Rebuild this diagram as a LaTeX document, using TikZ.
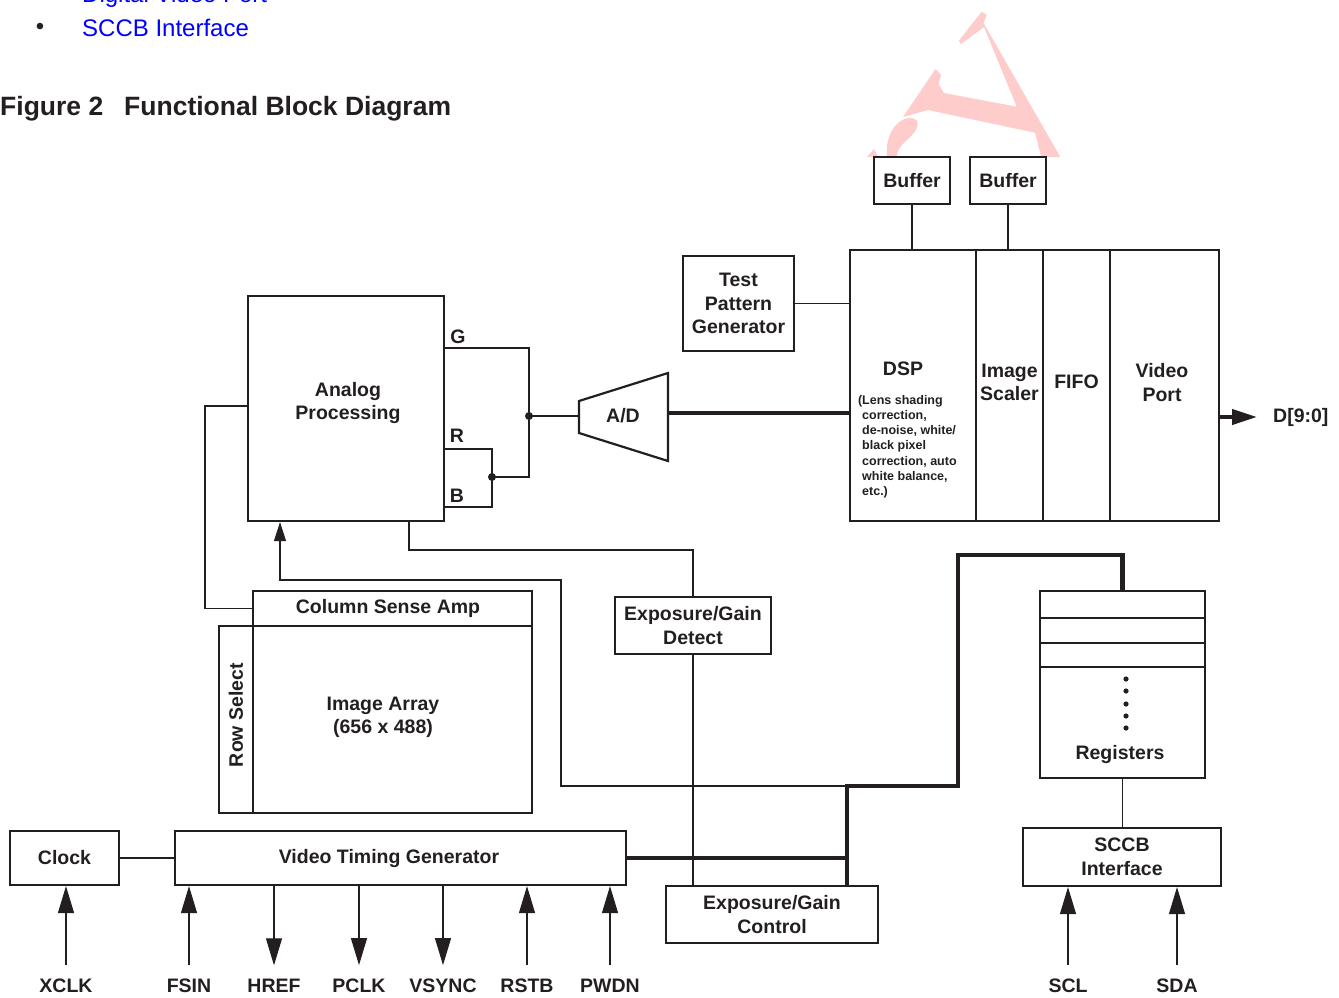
\documentclass[tikz,border=0pt]{standalone}
\usepackage{fontspec}
\setmainfont{Liberation Sans}
\usetikzlibrary{arrows.meta}
\definecolor{ink}{HTML}{231F20}
\definecolor{wmred}{HTML}{FFCCCC}
\newcommand{\lbl}{\fontsize{19.5}{23.5}\selectfont\bfseries}
\newcommand{\notefont}{\fontsize{12.5}{15.2}\selectfont\bfseries}
\begin{document}
\begin{tikzpicture}[x=1pt, y=-1pt, color=ink,
    blk/.style={draw, line width=2.2pt, inner sep=0pt, align=center, font=\lbl},
    wire/.style={line width=1.2pt},
    bus/.style={line width=4.2pt},
    tip/.style={-{Triangle[length=27pt, width=16pt]}},
    smalltip/.style={-{Triangle[length=19pt, width=12pt]}},
    pin/.style={font=\lbl, inner sep=0pt, outer sep=14pt}]
    \useasboundingbox (0,0) rectangle (1339,997);
    % watermark
    \begin{scope}
        \clip (840,0) rectangle (1100,156);
        \fill[wmred] (935.5,69) -- (941,75) -- (938.5,84) -- (944,93) -- (1016.7,106.7) -- (984,27) -- (961,44) -- (959,40.5) -- (981.7,11.7) -- (986.7,15) -- (983.5,23) -- (1062,160) -- (1042,160) -- (1035,132.7) -- (928,110) -- (903,117) -- cycle;
        \fill[wmred] (917,120) .. controls (905,112) and (884,128) .. (887,157) -- (897,157) .. controls (897,146) and (906,142) .. (912,135) .. controls (917,130) and (919,124) .. (917,120) -- cycle;
        \fill[wmred] (867,157) -- (874,149) -- (878,157) -- cycle;
    \end{scope}
    % heading
    \node[blue, font=\fontsize{24}{28}\selectfont, anchor=base west, inner sep=0pt] (dvp) at (82,2.5) {Digital Video Port};
    \node[font=\fontsize{24}{28}\selectfont, inner sep=0pt] (bullet) at (40,29) {•};
    \node[blue, font=\fontsize{24}{28}\selectfont, anchor=base west, inner sep=0pt] (sccbitem) at (82,36) {SCCB Interface};
    \node[font=\fontsize{26.5}{30}\selectfont\bfseries, anchor=base west, inner sep=0pt] (fig) at (0,115) {Figure 2};
    \node[font=\fontsize{26.5}{30}\selectfont\bfseries, anchor=base west, inner sep=0pt] (figtitle) at (124,115) {Functional Block Diagram};
    % blocks
    \node[blk, minimum width=76pt, minimum height=47pt] (buf1) at (912,180.5) {Buffer};
    \node[blk, minimum width=76pt, minimum height=47pt] (buf2) at (1008,180.5) {Buffer};
    \node[blk, minimum width=126pt, minimum height=271pt] (dsp) at (913,385.5) {};
    \node[blk, minimum width=67pt, minimum height=271pt] (scaler) at (1009.5,385.5) {};
    \node[blk, minimum width=67pt, minimum height=271pt] (fifo) at (1076.5,385.5) {};
    \node[blk, minimum width=109pt, minimum height=271pt] (vport) at (1164.5,385.5) {};
    \node[font=\lbl] (dsplbl) at (903,369) {DSP};
    \node[font=\lbl, align=center] (scalerlbl) at (1009.5,382.5) {Image\\Scaler};
    \node[font=\lbl] (fifolbl) at (1076.5,382) {FIFO};
    \node[font=\lbl, align=center] (vportlbl) at (1162,382.5) {Video\\Port};
    \node[font=\notefont, align=left, anchor=north west, inner sep=0pt] (dspnote) at (862,395) {\llap{(}Lens shading\\correction,\\de-noise, white/\\black pixel\\correction, auto\\white balance,\\etc.)};
    \node[blk, minimum width=111pt, minimum height=95pt] (tpg) at (738.5,303.5) {Test\\Pattern\\Generator};
    \node[blk, minimum width=196pt, minimum height=225pt] (ap) at (346,408.5) {};
    \node[font=\lbl, align=center] (aplbl) at (348,403) {Analog\\Processing};
    \node[font=\lbl] (g) at (458,337) {G};
    \node[font=\lbl] (r) at (457,436) {R};
    \node[font=\lbl] (b) at (457,496) {B};
    \draw[line width=2.2pt] (579,401) -- (668,373) -- (668,461) -- (579,433) -- cycle;
    \node[font=\lbl] (ad) at (623,416) {A/D};
    \coordinate (adin) at (579,416);
    \coordinate (adout) at (668,413);
    \coordinate (gdot) at (529,416);
    \coordinate (rdot) at (492,477);
    \node[blk, minimum width=279pt, minimum height=35pt] (csa) at (392.5,608.5) {};
    \node[font=\lbl] (csalbl) at (388,608.5) {Column Sense Amp};
    \node[blk, minimum width=34pt, minimum height=187pt] (rowsel) at (236,719.5) {};
    \node[font=\lbl, rotate=90] (rowlbl) at (236,715) {Row Select};
    \node[blk, minimum width=279pt, minimum height=187pt] (array) at (392.5,719.5) {};
    \node[font=\lbl, align=center] (arraylbl) at (383,717.5) {Image Array\\(656 x 488)};
    \node[blk, minimum width=156pt, minimum height=57pt] (egd) at (693,625.5) {Exposure/Gain\\Detect};
    \node[blk, minimum width=212pt, minimum height=57pt] (egc) at (772,914.5) {Exposure/Gain\\Control};
    \node[blk, minimum width=165pt, minimum height=187pt] (regs) at (1122.5,684.5) {};
    \node[font=\lbl] (reglbl) at (1120,754) {Registers};
    \node[blk, minimum width=198pt, minimum height=58pt] (sccb) at (1122,857) {SCCB\\Interface};
    \node[blk, minimum width=109pt, minimum height=54pt] (clock) at (64.5,858) {Clock};
    \node[blk, minimum width=451pt, minimum height=54pt] (vtg) at (400.5,858) {};
    \node[font=\lbl] (vtglbl) at (389,858) {Video Timing Generator};
    \node[font=\lbl, anchor=west, inner sep=0pt] (dout) at (1273,417) {D[9:0]};
    \foreach \n/\t/\x in {xclk/XCLK/66, fsin/FSIN/189, href/HREF/274, pclk/PCLK/359, vsync/VSYNC/443, rstb/RSTB/527, pwdn/PWDN/610, scl/SCL/1068, sda/SDA/1177}
        \node[pin] (\n) at (\x,986) {\t};
    % register rows
    \foreach \y in {618,643,667}
        \draw[line width=1.5pt] (regs.west |- 0,\y) -- (regs.east |- 0,\y);
    \foreach \y in {679,691,704,716,728}
        \fill (1126,\y) circle (2.6pt);
    % connectors
    \draw[wire] (buf1.south) -- (buf1.south |- dsp.north);
    \draw[wire] (buf2.south) -- (buf2.south |- scaler.north);
    \draw[wire] (tpg.east) -- (tpg.east -| dsp.west);
    \draw[wire] (ap.east |- 0,348) -| (rdot -| gdot) -- (rdot);
    \draw[wire] (ap.east |- 0,449) -| (rdot |- 0,507) -- (ap.east |- 0,507);
    \fill (gdot) circle (4pt);
    \fill (rdot) circle (4pt);
    \draw[wire] (gdot) -- (adin);
    \draw[bus] (adout) -- (adout -| dsp.west);
    \draw[bus, -{Triangle[length=25pt, width=15pt]}] (vport.east |- dout.west) -- ([xshift=-16pt]dout.west);
    \draw[wire] (ap.west |- 0,406) -| (205,608.5) -- (csa.west);
    \coordinate (j1) at (847,858);
    \coordinate (j2) at (847,786);
    \draw[wire, smalltip] (j2) -- (561,786) -- (561,580) -| (ap.south -| 280,0);
    \draw[wire] (ap.south -| 409,0) -- (409,550) -| (egd.north);
    \draw[wire] (egd.south) -- (egd.south |- egc.north);
    \draw[wire] (regs.south) -- (regs.south |- sccb.north);
    \draw[wire] (clock.east) -- (vtg.west);
    \draw[bus] (vtg.east) -- (j1);
    \draw[bus] (egc.north -| j2) -- (j2) -- (958,786) -- (958,555) -| (regs.north);
    \draw[wire, tip] (xclk.north) -- (xclk |- clock.south);
    \foreach \n in {fsin,rstb,pwdn}
        \draw[wire, tip] (\n.north) -- (\n |- vtg.south);
    \foreach \n in {href,pclk,vsync}
        \draw[wire, tip] (\n |- vtg.south) -- (\n.north);
    \foreach \n in {scl,sda}
        \draw[wire, tip] (\n.north) -- (\n |- sccb.south);
\end{tikzpicture}
\end{document}
